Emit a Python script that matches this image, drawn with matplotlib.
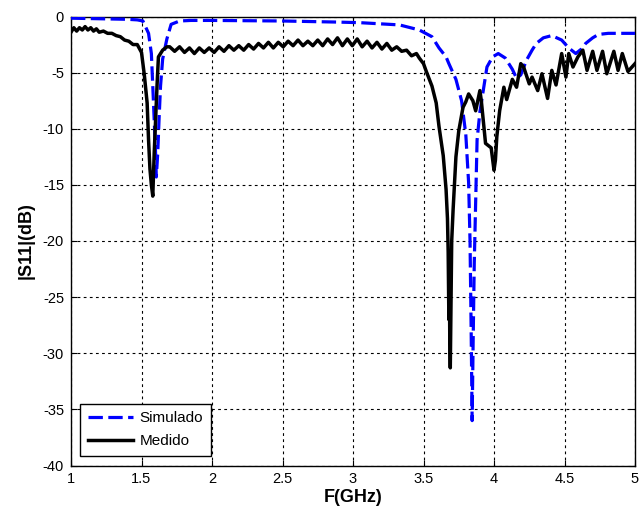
import matplotlib
matplotlib.use("Agg")
import matplotlib.pyplot as plt

plt.rcParams["font.family"] = ["Liberation Sans", "DejaVu Sans"]
plt.rcParams["axes.unicode_minus"] = False

# Simulado (azul, discontinua)
sim_f = [1.00, 1.20, 1.40, 1.47, 1.51, 1.55, 1.57, 1.58, 1.59, 1.60, 1.605,
         1.615, 1.625, 1.635, 1.65, 1.68, 1.71, 1.77, 1.85, 2.00, 2.50, 2.90,
         3.05, 3.33, 3.47, 3.56, 3.61, 3.66, 3.68, 3.73, 3.77, 3.80, 3.82,
         3.83, 3.838, 3.845, 3.852, 3.86, 3.87, 3.88, 3.90, 3.92, 3.95, 3.99,
         4.03, 4.08, 4.13, 4.16, 4.19, 4.23, 4.27, 4.30, 4.35, 4.41, 4.48,
         4.53, 4.58, 4.62, 4.65, 4.70, 4.74, 4.81, 4.90, 5.00]
sim_s = [-0.15, -0.2, -0.25, -0.3, -0.4, -1.5, -3.3, -6.2, -9.2, -12.2, -14.3,
         -12.2, -9.0, -6.2, -3.8, -2.0, -0.7, -0.4, -0.35, -0.35, -0.4, -0.5,
         -0.55, -0.75, -1.2, -1.8, -2.8, -3.6, -4.2, -5.6, -7.5, -10.5, -14.8,
         -20.0, -28.0, -36.0, -29.0, -22.0, -16.5, -11.0, -8.5, -6.9, -4.5, -3.6,
         -3.3, -3.7, -4.7, -5.5, -5.2, -3.9, -3.0, -2.4, -1.9, -1.7, -2.1,
         -2.8, -3.3, -2.9, -2.4, -1.9, -1.6, -1.5, -1.5, -1.5]

# Medido (negro, continua)
med_f = [1.00, 1.02, 1.04, 1.06, 1.08, 1.10, 1.12, 1.14, 1.16, 1.18, 1.20,
         1.23, 1.26, 1.29, 1.32, 1.35, 1.38, 1.41, 1.44, 1.47, 1.50, 1.52,
         1.54, 1.55, 1.56, 1.57, 1.58, 1.59, 1.60, 1.61, 1.62, 1.65, 1.68,
         1.70, 1.735, 1.77, 1.805, 1.84, 1.875, 1.91, 1.945, 1.98, 2.015,
         2.05, 2.085, 2.12, 2.155, 2.19, 2.225, 2.26, 2.295, 2.33, 2.365,
         2.40, 2.435, 2.47, 2.505, 2.54, 2.575, 2.61, 2.645, 2.68, 2.715,
         2.75, 2.785, 2.82, 2.855, 2.89, 2.925, 2.96, 2.995, 3.03, 3.065,
         3.10, 3.135, 3.17, 3.205, 3.24, 3.275, 3.31, 3.345, 3.38, 3.415,
         3.45, 3.47, 3.50, 3.52, 3.56, 3.59, 3.61, 3.64, 3.66, 3.67, 3.675,
         3.68, 3.683, 3.686, 3.69, 3.695, 3.70, 3.71, 3.73, 3.75, 3.78, 3.80,
         3.82, 3.85, 3.87, 3.90, 3.91, 3.94, 3.98, 4.00, 4.01, 4.02, 4.04,
         4.07, 4.09, 4.13, 4.16, 4.19, 4.21, 4.25, 4.27, 4.31, 4.34, 4.38,
         4.41, 4.44, 4.48, 4.51, 4.53, 4.56, 4.595, 4.63, 4.66, 4.70, 4.73,
         4.77, 4.80, 4.85, 4.88, 4.91, 4.95, 5.00]
med_s = [-1.4, -1.0, -1.3, -1.0, -1.2, -0.9, -1.2, -1.0, -1.3, -1.1, -1.4,
         -1.3, -1.5, -1.5, -1.7, -1.8, -2.1, -2.2, -2.5, -2.5, -3.2, -5.2,
         -7.7, -11.0, -13.6, -15.0, -16.0, -12.2, -9.2, -6.2, -3.6, -3.0, -2.7,
         -2.7, -3.1, -2.7, -3.2, -2.8, -3.3, -2.8, -3.2, -2.8, -3.2,
         -2.7, -3.1, -2.6, -3.0, -2.6, -3.0, -2.5, -2.9, -2.4, -2.8,
         -2.3, -2.8, -2.3, -2.7, -2.2, -2.6, -2.1, -2.6, -2.2, -2.6,
         -2.1, -2.6, -2.0, -2.5, -1.9, -2.6, -2.0, -2.6, -2.0, -2.7,
         -2.2, -2.8, -2.3, -2.9, -2.4, -3.0, -2.7, -3.1, -3.0, -3.5,
         -3.3, -3.7, -4.2, -4.9, -6.2, -7.7, -9.8, -12.4, -15.4, -18.0, -21.0,
         -27.0, -22.0, -28.0, -31.3, -26.0, -20.0, -17.2, -12.5, -10.2, -8.1, -7.6,
         -6.9, -7.5, -8.4, -6.6, -7.5, -11.3, -11.7, -13.7, -12.8, -10.7, -8.4,
         -6.3, -7.4, -5.6, -6.3, -4.2, -4.5, -6.0, -5.4, -6.6, -5.1, -7.3,
         -4.8, -6.1, -3.3, -5.4, -3.3, -4.5, -3.6, -3.0, -4.8, -3.1, -4.8,
         -3.1, -5.1, -3.1, -4.8, -3.3, -4.9, -4.2]

xticks = [1, 1.5, 2, 2.5, 3, 3.5, 4, 4.5, 5]
xtick_labels = ["1", "1.5", "2", "2.5", "3", "3.5", "4", "4.5", "5"]
yticks = [-40, -35, -30, -25, -20, -15, -10, -5, 0]

fig = plt.figure(figsize=(6.43, 5.15), dpi=100)
ax = fig.add_axes([71 / 643, 1 - 465.5 / 515, 564 / 643, 449 / 515])

ax.plot(sim_f, sim_s, color="#0000ff", linewidth=2.3, linestyle=(0, (4.5, 1.7)),
        label="Simulado", zorder=3)
ax.plot(med_f, med_s, color="black", linewidth=2.5, label="Medido", zorder=3)

ax.set_xlim(1, 5)
ax.set_ylim(-40, 0)
ax.set_xticks(xticks)
ax.set_xticklabels(xtick_labels)
ax.set_yticks(yticks)
ax.tick_params(direction="in", labelsize=10.5, length=4, width=0.8,
               top=True, right=True, pad=5)

ax.grid(True, color="black", linestyle=(0, (2.5, 3)), linewidth=0.8)
for spine in ax.spines.values():
    spine.set_edgecolor("black")
    spine.set_linewidth(1.0)

ax.set_xlabel("F(GHz)", fontsize=13, fontweight="bold", labelpad=2)
ax.set_ylabel("|S11|(dB)", fontsize=13, fontweight="bold", labelpad=6)

leg = ax.legend(loc="lower left", bbox_to_anchor=(0.016, 0.021), borderaxespad=0,
                fancybox=False, edgecolor="black", framealpha=1, fontsize=11,
                handlelength=3.0, handletextpad=0.4, borderpad=0.5,
                labelspacing=0.6)
leg.get_frame().set_linewidth(1.0)

plt.savefig("out.png", dpi=100)
